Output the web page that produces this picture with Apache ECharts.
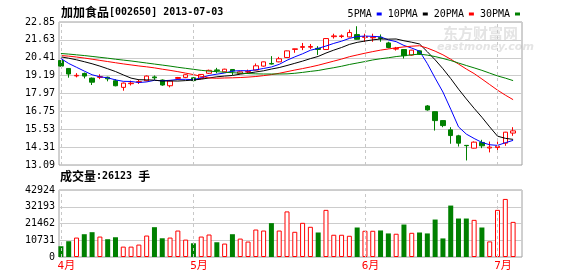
<!DOCTYPE html>
<html><head><meta charset="utf-8">
<script src="https://cdn.jsdelivr.net/npm/echarts@6/dist/echarts.min.js"></script>
<style>html,body{margin:0;padding:0;background:#fff}#c{width:578px;height:276px}</style>
</head><body><div id="c"></div>
<script>
const dates = ['2013-04-02','2013-04-03','2013-04-08','2013-04-09','2013-04-10','2013-04-11','2013-04-12','2013-04-15','2013-04-16','2013-04-17','2013-04-18','2013-04-19','2013-04-22','2013-04-23','2013-04-24','2013-04-25','2013-04-26',
'2013-05-02','2013-05-03','2013-05-06','2013-05-07','2013-05-08','2013-05-09','2013-05-10','2013-05-13','2013-05-14','2013-05-15','2013-05-16','2013-05-17','2013-05-20','2013-05-21','2013-05-22','2013-05-23','2013-05-24','2013-05-27','2013-05-28','2013-05-29','2013-05-30','2013-05-31',
'2013-06-03','2013-06-04','2013-06-05','2013-06-06','2013-06-07','2013-06-13','2013-06-14','2013-06-17','2013-06-18','2013-06-19','2013-06-20','2013-06-21','2013-06-24','2013-06-25','2013-06-26','2013-06-27','2013-06-28',
'2013-07-01','2013-07-02','2013-07-03'];
const opens  = [20.22,19.68,19.17,19.34,19.02,19.07,19.08,18.84,18.39,18.64,18.74,18.84,19.10,18.89,18.50,19.00,19.07,19.04,19.00,19.35,19.58,19.45,19.61,19.34,19.43,19.57,19.84,20.02,20.13,20.43,20.98,21.12,21.13,21.05,20.97,21.85,21.86,21.83,21.99,21.80,21.77,21.80,21.42,21.00,20.97,20.59,20.88,17.12,16.73,16.12,15.49,15.08,14.43,14.24,14.63,14.25,14.28,14.58,15.27];
const closes = [19.84,19.30,19.21,19.16,18.74,19.12,18.97,18.50,18.68,18.68,18.78,19.16,19.04,18.55,18.82,19.06,19.25,18.85,19.27,19.55,19.53,19.63,19.50,19.45,19.47,19.86,20.13,19.98,20.34,20.88,21.02,21.17,21.18,20.98,21.72,21.90,21.90,22.13,21.67,21.85,21.81,21.73,21.11,21.05,20.55,20.93,20.65,16.85,16.12,15.78,15.10,14.58,14.41,14.65,14.40,14.31,14.37,15.33,15.42];
const highs  = [20.25,19.70,19.36,19.40,19.06,19.28,19.12,18.95,18.72,18.85,18.92,19.20,19.20,18.93,18.85,19.10,19.28,19.10,19.30,19.60,19.72,19.66,19.63,19.48,19.60,20.02,20.15,20.52,20.47,20.90,21.03,21.42,21.35,21.20,21.75,22.05,22.00,22.33,22.56,22.05,22.05,22.00,21.50,21.15,21.00,20.95,20.90,17.18,16.75,16.14,15.67,15.15,14.45,14.70,14.81,14.69,14.69,15.35,15.67];
const lows   = [19.80,19.05,19.07,19.00,18.55,18.95,18.80,18.46,18.16,18.52,18.62,18.80,18.90,18.50,18.39,18.92,19.02,18.80,18.95,19.30,19.35,19.42,19.23,19.30,19.35,19.55,19.80,19.95,20.10,20.40,20.75,20.93,21.00,20.60,20.95,21.72,21.75,21.80,21.65,21.50,21.50,21.50,21.05,20.90,20.36,20.55,20.60,16.80,15.44,15.67,14.54,14.35,13.40,14.22,14.24,13.95,14.00,14.40,15.08];
const volumes = [6900,10100,12450,14600,15900,13100,11400,12650,6650,6650,7950,13750,19100,12000,12450,16950,11150,8800,13100,14400,9450,8600,14600,11800,9900,17600,16950,21700,16950,29200,16150,21900,19350,15700,30200,14250,14250,13600,18900,16800,16800,17000,15100,14900,20800,15500,15700,15100,24000,11900,32950,24650,24650,23800,18900,10000,30200,37200,22500];
const ma5  = [20.36,20.02,19.76,19.50,19.25,19.11,19.04,18.90,18.80,18.79,18.72,18.76,18.87,18.84,18.87,18.93,18.94,18.91,19.05,19.20,19.29,19.37,19.50,19.53,19.52,19.58,19.68,19.78,19.96,20.24,20.47,20.68,20.92,21.05,21.21,21.39,21.54,21.73,21.86,21.89,21.87,21.84,21.63,21.51,21.25,21.07,20.86,20.01,19.02,18.07,16.90,15.69,15.20,14.90,14.63,14.47,14.43,14.61,14.77];
const ma10 = [20.47,20.38,20.27,20.14,20.00,19.84,19.66,19.47,19.24,19.02,18.91,18.90,18.88,18.82,18.83,18.82,18.85,18.89,18.95,19.03,19.11,19.16,19.20,19.29,19.36,19.44,19.52,19.64,19.74,19.88,20.03,20.18,20.35,20.50,20.73,20.93,21.11,21.32,21.46,21.55,21.63,21.69,21.68,21.69,21.57,21.47,21.35,20.82,20.27,19.66,18.99,18.27,17.60,16.96,16.35,15.69,15.06,14.91,14.84];
const ma20 = [20.56,20.52,20.46,20.39,20.31,20.23,20.15,20.07,19.99,19.92,19.85,19.79,19.72,19.63,19.55,19.46,19.36,19.26,19.14,19.03,19.01,19.03,19.04,19.06,19.09,19.13,19.19,19.26,19.35,19.46,19.57,19.67,19.78,19.90,20.04,20.18,20.32,20.48,20.60,20.72,20.83,20.93,21.01,21.09,21.15,21.20,21.23,21.07,20.86,20.61,20.31,19.98,19.64,19.33,18.96,18.58,18.20,17.86,17.55];
const ma30 = [20.70,20.66,20.61,20.56,20.50,20.44,20.38,20.31,20.25,20.19,20.12,20.05,19.98,19.91,19.84,19.76,19.69,19.62,19.55,19.50,19.46,19.42,19.39,19.36,19.33,19.31,19.30,19.30,19.30,19.31,19.35,19.41,19.48,19.54,19.64,19.73,19.83,19.95,20.05,20.15,20.26,20.34,20.41,20.49,20.55,20.61,20.66,20.59,20.49,20.36,20.22,20.05,19.88,19.72,19.55,19.36,19.17,19.02,18.85];
const priceTicks = ['13.09','14.31','15.53','16.75','17.97','19.19','20.41','21.63','22.85'];
const volTicks = ['0','10731','21462','32193','42924'];
const monthStarts = ['2013-04-02','2013-05-02','2013-06-03','2013-07-01'];
const monthLabels = ['4月','5月','6月','7月'];
const maNames = ['5PMA','10PMA','20PMA','30PMA'];
const maColors = ['#0000ff','#000000','#ff0000','#008000'];

const mono = "'DejaVu Sans Mono', monospace";
const cjk = "'Noto Sans CJK SC', sans-serif";
const UP = '#ff0000', DOWN = '#008000';

const kData = dates.map((d, i) => [opens[i], closes[i], lows[i], highs[i]]);
const volData = volumes.map((v, i) => closes[i] >= opens[i]
  ? {value: v, itemStyle: {color: '#ffffff', borderColor: UP, borderWidth: 1}}
  : {value: v, itemStyle: {color: DOWN, borderColor: DOWN, borderWidth: 0}});
const monthLine = {
  silent: true, symbol: ['none', 'none'], label: {show: false},
  lineStyle: {type: [3, 3], color: '#c8c8c8', width: 1}, emphasis: {disabled: true},
  data: monthStarts.map(d => ({xAxis: d}))
};

const chart = echarts.init(document.getElementById('c'), null, {renderer: 'canvas'});
chart.setOption({
  animation: false,
  backgroundColor: '#ffffff',
  title: [
    {left: 61, top: 6, padding: 0, text: '{c|加加食品}{m|[002650] 2013-07-03}',
     textStyle: {rich: {c: {fontFamily: cjk, fontSize: 12, color: '#000'}, m: {fontFamily: mono, fontSize: 10, color: '#000'}}}},
    {left: 60, top: 170, padding: 0, text: '{c|成交量}{m|:26123 }{c|手}',
     textStyle: {rich: {c: {fontFamily: cjk, fontSize: 12, color: '#000'}, m: {fontFamily: mono, fontSize: 10, color: '#000'}}}}
  ],
  legend: {
    data: maNames, right: 58, top: 9, padding: 0, align: 'right', icon: 'rect',
    itemWidth: 5, itemHeight: 3, itemGap: 6, selectedMode: false,
    textStyle: {fontFamily: mono, fontSize: 10, color: '#000'}
  },
  graphic: [
    {type: 'text', left: 443, top: 26, silent: true, z: -10,
     style: {text: '东方财富网', fill: '#e4e4e4', font: 'bold 15px "Noto Sans CJK SC"'}},
    {type: 'text', left: 437, top: 42, silent: true, z: -10,
     style: {text: 'eastmoney.com', fill: '#e4e4e4', font: 'italic bold 11px "DejaVu Sans"'}}
  ],
  grid: [
    {left: 59, right: 56, top: 22, height: 143, show: true, borderColor: '#a0a0a0', borderWidth: 1, backgroundColor: 'transparent'},
    {left: 57, width: 460, top: 22, height: 143},
    {left: 59, right: 56, top: 190, height: 67, show: true, borderColor: '#a0a0a0', borderWidth: 1, backgroundColor: 'transparent'},
    {left: 57, width: 460, top: 190, height: 67}
  ],
  xAxis: [
    {gridIndex: 0, type: 'value', min: 0, max: 1, show: false},
    {gridIndex: 1, type: 'category', data: dates, boundaryGap: true, show: false},
    {gridIndex: 2, type: 'value', min: 0, max: 1, show: false},
    {gridIndex: 3, type: 'category', data: dates, boundaryGap: true,
     axisLine: {show: false}, axisTick: {show: false}, splitLine: {show: false},
     axisLabel: {
       interval: (i, v) => monthStarts.indexOf(v) >= 0,
       formatter: v => monthLabels[monthStarts.indexOf(v)] || '',
       color: '#ff0000', fontFamily: "'DejaVu Sans Mono', 'Noto Sans CJK SC'", fontSize: 11,
       margin: 4, align: 'center', padding: [0, 0, 0, 11]
     }}
  ],
  yAxis: [
    {gridIndex: 0, type: 'value', min: 0, max: priceTicks.length - 1, interval: 1,
     axisLine: {show: false}, axisTick: {show: false},
     splitLine: {lineStyle: {color: '#cccccc', width: 1}},
     axisLabel: {formatter: v => priceTicks[v], fontFamily: mono, fontSize: 10, color: '#000', margin: 4,
                 showMinLabel: true, showMaxLabel: true}},
    {gridIndex: 1, type: 'value', min: Number(priceTicks[0]), max: Number(priceTicks[priceTicks.length - 1]), show: false},
    {gridIndex: 2, type: 'value', min: 0, max: volTicks.length - 1, interval: 1,
     axisLine: {show: false}, axisTick: {show: false},
     splitLine: {lineStyle: {color: '#cccccc', width: 1}},
     axisLabel: {formatter: v => volTicks[v], fontFamily: mono, fontSize: 10, color: '#000', margin: 4,
                 padding: [6, 0, 0, 0], showMinLabel: true, showMaxLabel: true}},
    {gridIndex: 3, type: 'value', min: 0, max: Number(volTicks[volTicks.length - 1]), show: false}
  ],
  series: [
    {type: 'candlestick', name: 'K', xAxisIndex: 1, yAxisIndex: 1, data: kData, barWidth: 5,
     itemStyle: {color: '#ffffff', color0: DOWN, borderColor: UP, borderColor0: DOWN, borderWidth: 1},
     markLine: monthLine, z: 2},
    ...maNames.map((n, k) => ({
      type: 'line', name: n, xAxisIndex: 1, yAxisIndex: 1, data: [ma5, ma10, ma20, ma30][k],
      showSymbol: false, symbol: 'none', color: maColors[k],
      lineStyle: {color: maColors[k], width: 1}, z: 3
    })),
    {type: 'bar', name: 'VOL', xAxisIndex: 3, yAxisIndex: 3, data: volData, barWidth: 5,
     markLine: monthLine}
  ]
});
</script></body></html>
